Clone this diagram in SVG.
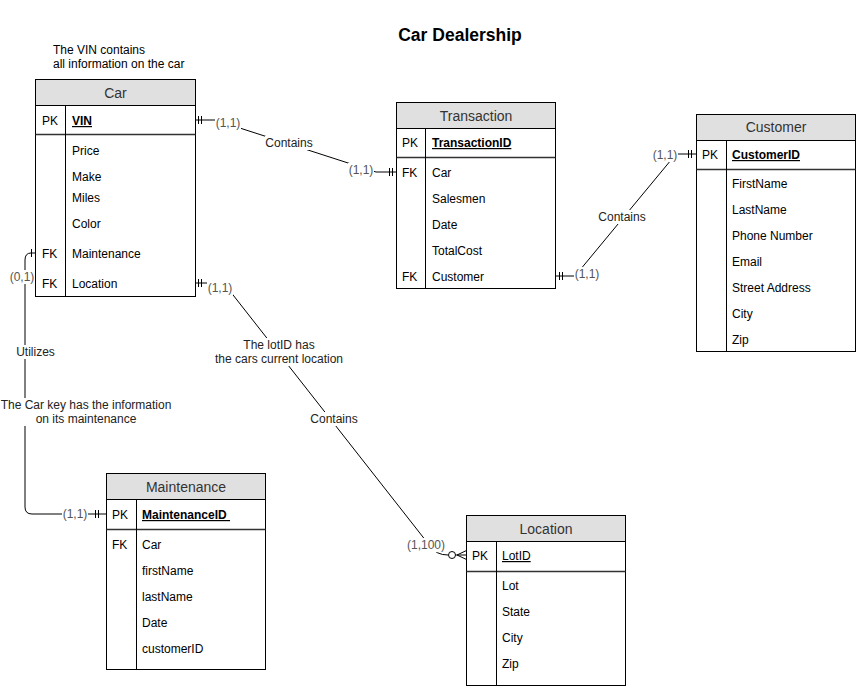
<svg xmlns="http://www.w3.org/2000/svg" width="856" height="686" viewBox="0 0 856 686">
<style>
text{font-family:"Liberation Sans",Arial,sans-serif;font-size:12px;fill:#000}
.box{fill:#fff;stroke:#000;stroke-width:1}
.hdr{fill:#e0e0e0;stroke:#000;stroke-width:1}
.ln{stroke:#000;stroke-width:1;fill:none}
.sep{stroke:#333;stroke-width:1.6;fill:none}
.h{font-size:14px;fill:#333;text-anchor:middle}
.pk{font-weight:bold;text-decoration:underline}
.pku{text-decoration:underline}
.edge{stroke:#000;stroke-width:1;fill:none}
.lbg{fill:#fff;stroke:none}
.card{fill:#555;text-anchor:middle}
.el{text-anchor:middle;fill:#222}
.title{font-size:17.5px;font-weight:bold;text-anchor:middle}
</style>
<rect width="856" height="686" fill="#fff"/>
<text class="title" x="460" y="41">Car Dealership</text>
<g id="note-vin">
<text x="53" y="54">The VIN contains</text>
<text x="53" y="68">all information on the car</text>
</g>

<g id="connectors">
<!-- Car VIN - Transaction Car -->
<path class="edge" d="M195.5,120 H215 L376,172 H396.5"/>
<path class="edge" d="M198.5,116 V124 M201.5,116 V124"/>
<path class="edge" d="M389.5,168 V176 M392.5,168 V176"/>
<rect class="lbg" x="215" y="115" width="26" height="14"/>
<text class="card" x="228" y="127">(1,1)</text>
<rect class="lbg" x="265" y="136" width="48" height="14"/>
<text class="el" x="289" y="147">Contains</text>
<rect class="lbg" x="348" y="163" width="26" height="14"/>
<text class="card" x="361" y="174">(1,1)</text>

<!-- Transaction Customer - Customer PK -->
<path class="edge" d="M555.5,276 H575 L676,154 H696.5"/>
<path class="edge" d="M559.5,272 V280 M562.5,272 V280"/>
<path class="edge" d="M688.5,150 V158 M691.5,150 V158"/>
<rect class="lbg" x="574" y="267" width="26" height="14"/>
<text class="card" x="587" y="278">(1,1)</text>
<rect class="lbg" x="598" y="210" width="48" height="14"/>
<text class="el" x="622" y="221">Contains</text>
<rect class="lbg" x="652" y="148" width="26" height="14"/>
<text class="card" x="665" y="159">(1,1)</text>

<!-- Car Location - Location LotID -->
<path class="edge" d="M195.5,283 H220 Q224,283 226,286 L430,546 Q436,555 448,555"/>
<circle cx="452" cy="555" r="3.5" fill="#fff" stroke="#000"/>
<path class="edge" d="M455.5,555 H466.5 M457,555 L466.5,550.5 M457,555 L466.5,559.5"/>
<path class="edge" d="M198.5,279 V287 M201.5,279 V287"/>
<rect class="lbg" x="207" y="281" width="26" height="14"/>
<text class="card" x="220" y="292">(1,1)</text>
<rect class="lbg" x="214" y="338" width="130" height="28"/>
<text class="el" x="279" y="349">The lotID has</text>
<text class="el" x="279" y="363">the cars current location</text>
<rect class="lbg" x="310" y="412" width="48" height="14"/>
<text class="el" x="334" y="423">Contains</text>
<rect class="lbg" x="406" y="538" width="40" height="14"/>
<text class="card" x="426" y="549">(1,100)</text>

<!-- Car Maintenance - Maintenance PK -->
<path class="edge" d="M35.5,253 H31 Q25,253 25,260 V507 Q25,514 32,514 H106.5"/>
<path class="edge" d="M31.5,249 V257"/>
<path class="edge" d="M95.5,510 V518 M98.5,510 V518"/>
<rect class="lbg" x="9" y="270" width="26" height="14"/>
<text class="card" x="22" y="281">(0,1)</text>
<rect class="lbg" x="15" y="345" width="41" height="14"/>
<text class="el" x="35.5" y="356">Utilizes</text>
<rect class="lbg" x="0" y="398" width="172" height="28"/>
<text class="el" x="86" y="409">The Car key has the information</text>
<text class="el" x="86" y="423">on its maintenance</text>
<rect class="lbg" x="62" y="507" width="26" height="14"/>
<text class="card" x="75" y="518">(1,1)</text>
</g>

<g id="car">
<rect class="box" x="35.5" y="79.5" width="160" height="217"/>
<rect class="hdr" x="35.5" y="79.5" width="160" height="26"/>
<line class="sep" x1="35.5" y1="134.5" x2="195.5" y2="134.5"/>
<line class="ln" x1="65.5" y1="105.5" x2="65.5" y2="296.5"/>
<text class="h" x="115.5" y="98">Car</text>
<text x="42" y="125">PK</text><text class="pk" x="72" y="125">VIN</text>
<text x="72" y="155">Price</text>
<text x="72" y="181">Make</text>
<text x="72" y="202">Miles</text>
<text x="72" y="228">Color</text>
<text x="42" y="258">FK</text><text x="72" y="258">Maintenance</text>
<text x="42" y="288">FK</text><text x="72" y="288">Location</text>
</g>

<g id="transaction">
<rect class="box" x="396.5" y="102.5" width="159" height="186"/>
<rect class="hdr" x="396.5" y="102.5" width="159" height="26"/>
<line class="sep" x1="396.5" y1="157.5" x2="555.5" y2="157.5"/>
<line class="ln" x1="425.5" y1="128.5" x2="425.5" y2="288.5"/>
<text class="h" x="476" y="121">Transaction</text>
<text x="402" y="147">PK</text><text class="pk" x="432" y="147">TransactionID</text>
<text x="402" y="177">FK</text><text x="432" y="177">Car</text>
<text x="432" y="203">Salesmen</text>
<text x="432" y="229">Date</text>
<text x="432" y="255">TotalCost</text>
<text x="402" y="281">FK</text><text x="432" y="281">Customer</text>
</g>

<g id="customer">
<rect class="box" x="696.5" y="114.5" width="159" height="237"/>
<rect class="hdr" x="696.5" y="114.5" width="159" height="26"/>
<line class="sep" x1="696.5" y1="169.5" x2="855.5" y2="169.5"/>
<line class="ln" x1="726.5" y1="140.5" x2="726.5" y2="351.5"/>
<text class="h" x="776" y="132">Customer</text>
<text x="702" y="159">PK</text><text class="pk" x="732" y="159">CustomerID</text>
<text x="732" y="188">FirstName</text>
<text x="732" y="214">LastName</text>
<text x="732" y="240">Phone Number</text>
<text x="732" y="266">Email</text>
<text x="732" y="292">Street Address</text>
<text x="732" y="318">City</text>
<text x="732" y="344">Zip</text>
</g>

<g id="maintenance">
<rect class="box" x="106.5" y="473.5" width="159" height="196"/>
<rect class="hdr" x="106.5" y="473.5" width="159" height="26"/>
<line class="sep" x1="106.5" y1="529.5" x2="265.5" y2="529.5"/>
<line class="ln" x1="136.5" y1="499.5" x2="136.5" y2="669.5"/>
<text class="h" x="186" y="492">Maintenance</text>
<text x="112" y="519">PK</text><text class="pk" x="142" y="519" xml:space="preserve">MaintenanceID </text>
<text x="112" y="549">FK</text><text x="142" y="549">Car</text>
<text x="142" y="575">firstName</text>
<text x="142" y="601">lastName</text>
<text x="142" y="627">Date</text>
<text x="142" y="653">customerID</text>
</g>

<g id="location">
<rect class="box" x="466.5" y="515.5" width="159" height="170"/>
<rect class="hdr" x="466.5" y="515.5" width="159" height="26"/>
<line class="sep" x1="466.5" y1="571.5" x2="625.5" y2="571.5"/>
<line class="ln" x1="496.5" y1="541.5" x2="496.5" y2="685.5"/>
<text class="h" x="546" y="534">Location</text>
<text x="472" y="560">PK</text><text class="pku" x="502" y="560">LotID</text>
<text x="502" y="590">Lot</text>
<text x="502" y="616">State</text>
<text x="502" y="642">City</text>
<text x="502" y="668">Zip</text>
</g>
</svg>
